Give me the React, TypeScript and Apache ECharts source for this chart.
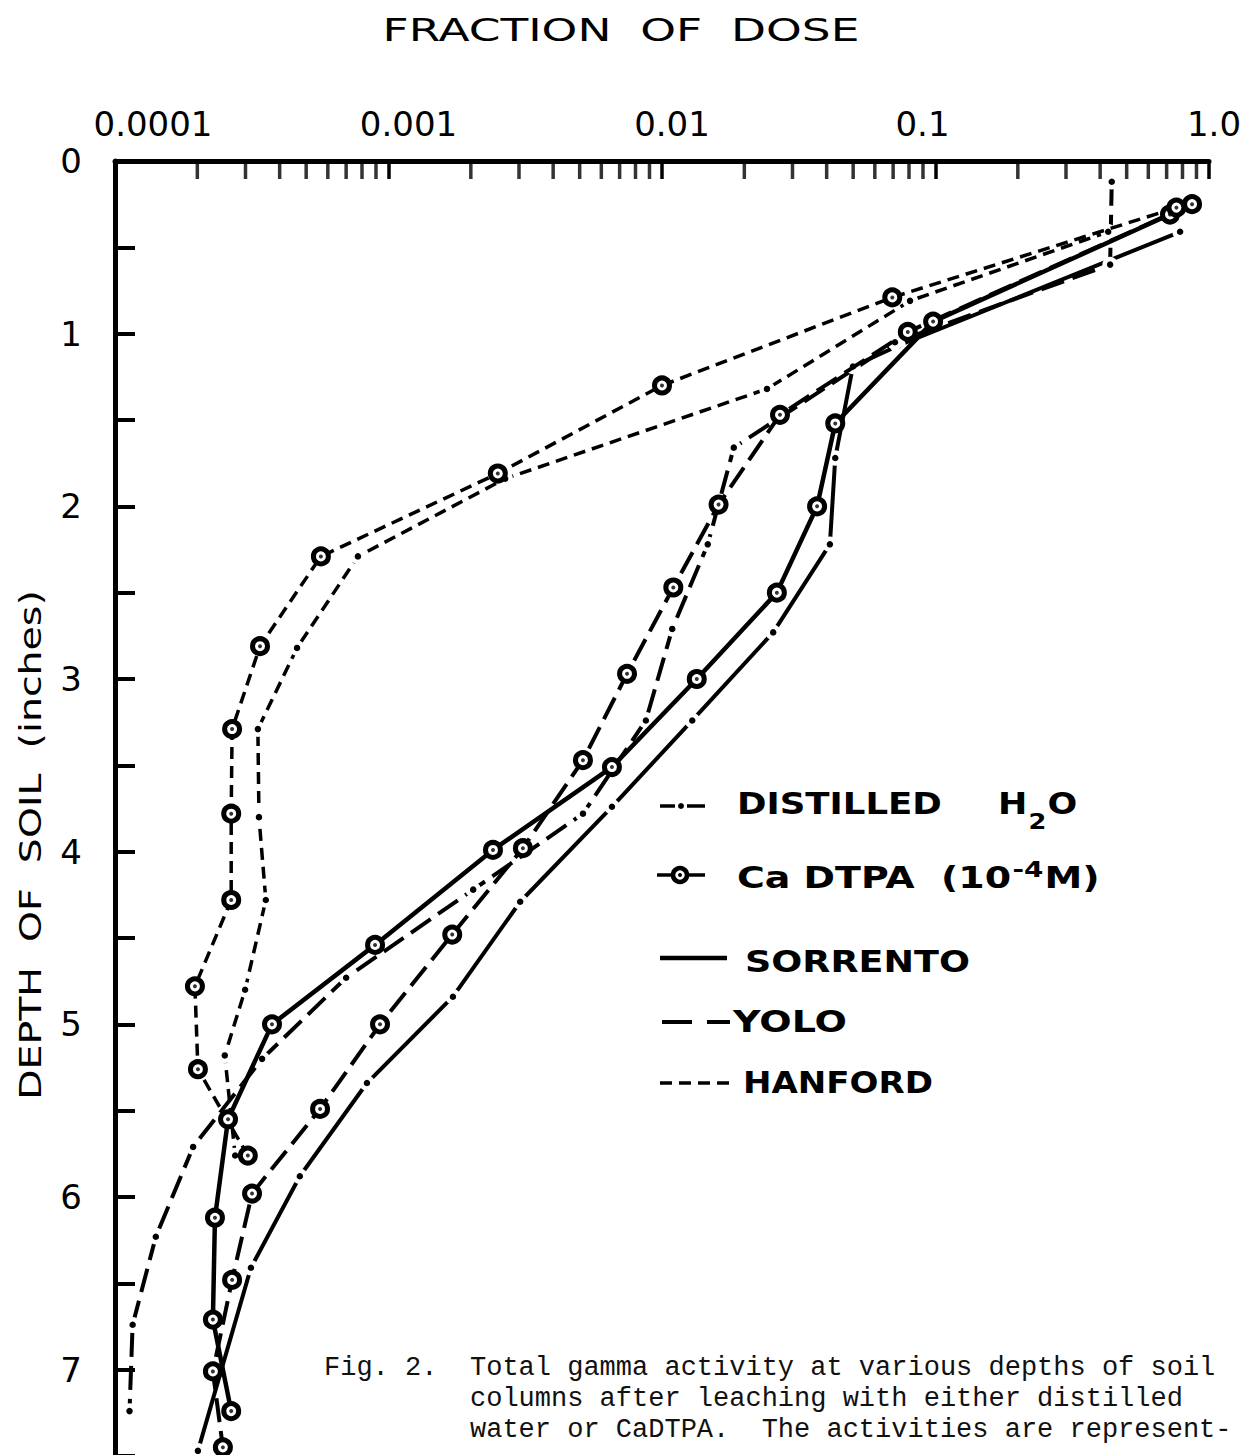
import React, { useEffect, useRef } from 'react';
import * as echarts from 'echarts';

// ---------- data ----------
const xTickLabels = ['0.0001', '0.001', '0.01', '0.1', '1.0'];
const minorTickValues = [
  0.0002, 0.0003, 0.0004, 0.0005, 0.0006, 0.0007, 0.0008, 0.0009,
  0.002, 0.003, 0.004, 0.005, 0.006, 0.007, 0.008, 0.009,
  0.02, 0.03, 0.04, 0.05, 0.06, 0.07, 0.08, 0.09,
  0.2, 0.3, 0.4, 0.5, 0.6, 0.7, 0.8, 0.9,
];

// CaDTPA (10^-4 M) leaching
const sorrentoCaDepth = [0.31, 0.93, 1.52, 2.0, 2.5, 3.0, 3.51, 3.99, 4.54, 5.0, 5.55, 6.12, 6.71, 7.24];
const sorrentoCaFraction = [0.72, 0.098, 0.043, 0.0369, 0.0263, 0.0134, 0.00656, 0.00241, 0.000893, 0.000375, 0.000259, 0.000232, 0.000228, 0.000266];

const yoloCaDepth = [0.25, 0.99, 1.47, 1.99, 2.47, 2.97, 3.47, 3.98, 4.48, 5.0, 5.49, 5.98, 6.48, 7.01, 7.45];
const yoloCaFraction = [0.867, 0.0792, 0.027, 0.0161, 0.011, 0.00745, 0.00514, 0.0031, 0.00171, 0.000931, 0.000562, 0.000317, 0.000268, 0.000228, 0.000248];

const hanfordCaDepth = [0.27, 0.79, 1.3, 1.81, 2.29, 2.81, 3.29, 3.78, 4.28, 4.78, 5.26, 5.76];
const hanfordCaFraction = [0.76, 0.0695, 0.01, 0.00251, 0.000566, 0.000339, 0.000268, 0.000266, 0.000266, 0.000196, 0.000201, 0.000306];

// Distilled H2O leaching
const sorrentoH2oDepth = [0.41, 1.07, 1.19, 1.72, 2.22, 2.73, 3.24, 3.74, 4.29, 4.84, 5.34, 5.88, 6.41, 7.47];
const sorrentoH2oFraction = [0.784, 0.073, 0.0499, 0.043, 0.0411, 0.0255, 0.0129, 0.00656, 0.00303, 0.00172, 0.000834, 0.000474, 0.000314, 0.000201];

const yoloH2oDepth = [0.12, 0.6, 1.05, 1.66, 2.22, 2.71, 3.24, 3.78, 4.22, 4.73, 5.2, 5.71, 6.23, 6.74, 7.24];
const yoloH2oFraction = [0.441, 0.435, 0.0711, 0.0183, 0.0147, 0.0109, 0.00873, 0.00514, 0.00204, 0.0007, 0.000345, 0.000193, 0.000141, 0.000116, 0.000113];

const hanfordH2oDepth = [0.41, 0.81, 1.32, 1.84, 2.29, 2.82, 3.29, 3.8, 4.28, 4.8, 5.18, 5.76];
const hanfordH2oFraction = [0.428, 0.0807, 0.0242, 0.00267, 0.000773, 0.000463, 0.000333, 0.000336, 0.000356, 0.000299, 0.000252, 0.000275];

const titleText = 'FRACTION  OF  DOSE';
const yAxisTitle = 'DEPTH  OF  SOIL  (inches)';
const captionLabel = 'Fig. 2.';
const captionLines = [
  'Total gamma activity at various depths of soil',
  'columns after leaching with either distilled',
  'water or CaDTPA.  The activities are represent-',
];

// ---------- layout / style ----------
const xLabelShift = [38, 20, 10, -13, 5];
const SORRENTO_DASH: any = 'solid';
const YOLO_DASH = [24, 9];
const HANFORD_DASH = [12, 7];
const LEG_FAMILY = 'DejaVu Sans';

let measureCtx: CanvasRenderingContext2D | null = null;
function textWidth(text: string, font: string): number {
  if (!measureCtx) measureCtx = document.createElement('canvas').getContext('2d');
  if (!measureCtx) return text.length * 18;
  measureCtx.font = font;
  return measureCtx.measureText(text).width || 1;
}

function fitText(text: string, size: number, weight: string, family: string, x: number, y: number, targetW: number, align = 'left', extra: any = {}) {
  const font = `${weight} ${size}px "${family}"`;
  const w = textWidth(text, font);
  return {
    type: 'text',
    x,
    y,
    scaleX: targetW / w,
    silent: true,
    style: {
      text,
      font,
      fontSize: size,
      fontWeight: weight,
      fontFamily: family,
      fill: '#000',
      textAlign: align,
      textVerticalAlign: 'middle',
      align,
      verticalAlign: 'middle',
    },
    ...extra,
  };
}

// legend text with a subscript / superscript part, fitted to a width
type Seg = { t: string; kind?: 'sub' | 'sup' };
function fitRich(segs: Seg[], x: number, y: number, targetW: number) {
  const size = 30;
  const small = 22;
  const mainFont = `bold ${size}px "${LEG_FAMILY}"`;
  const smallFont = `bold ${small}px "${LEG_FAMILY}"`;
  let w = 0;
  let text = '';
  segs.forEach((s) => {
    if (s.kind) {
      w += textWidth(s.t, smallFont);
      text += `{${s.kind}|${s.t}}`;
    } else {
      w += textWidth(s.t, mainFont);
      text += s.t;
    }
  });
  return {
    type: 'text',
    x,
    y,
    scaleX: targetW / w,
    silent: true,
    style: {
      text,
      font: mainFont,
      fontSize: size,
      fontWeight: 'bold',
      fontFamily: LEG_FAMILY,
      fill: '#000',
      textAlign: 'left',
      textVerticalAlign: 'middle',
      align: 'left',
      verticalAlign: 'middle',
      rich: {
        sub: { fontSize: small, fontWeight: 'bold', fontFamily: LEG_FAMILY, fill: '#000', padding: [36, 1, 0, 1] },
        sup: { fontSize: small, fontWeight: 'bold', fontFamily: LEG_FAMILY, fill: '#000', padding: [0, 1, 14, 1] },
      },
    },
  };
}

const pairs = (xs: number[], ds: number[]) => xs.map((x, i) => [x, ds[i]]);

function caLine(name: string, xs: number[], ds: number[], dash: any, width: number) {
  return {
    name,
    type: 'line',
    data: pairs(xs, ds),
    clip: false,
    silent: true,
    z: 4,
    lineStyle: { color: '#000', width, type: dash },
    symbol: 'circle',
    symbolSize: 15,
    showSymbol: true,
    showAllSymbol: true,
    itemStyle: { color: '#fff', borderColor: '#000', borderWidth: 5 },
    emphasis: { disabled: true },
  };
}

function h2oLine(name: string, xs: number[], ds: number[], dash: any, width: number) {
  return {
    name,
    type: 'line',
    data: pairs(xs, ds),
    clip: false,
    silent: true,
    z: 3,
    lineStyle: { color: '#000', width, type: dash },
    symbol: 'circle',
    symbolSize: 11,
    showSymbol: true,
    showAllSymbol: true,
    itemStyle: { color: '#000', borderColor: '#fff', borderWidth: 4.5 },
    emphasis: { disabled: true },
  };
}

function centerDots(xs: number[], ds: number[]) {
  return {
    type: 'scatter',
    data: pairs(xs, ds),
    clip: false,
    silent: true,
    z: 5,
    symbol: 'circle',
    symbolSize: 4,
    itemStyle: { color: '#000' },
    emphasis: { disabled: true },
  };
}

function captionText(text: string, x: number, y: number) {
  return {
    type: 'text',
    x,
    y,
    silent: true,
    style: {
      text,
      font: 'normal 27px "Liberation Mono"',
      fontSize: 27,
      fontFamily: 'Liberation Mono',
      fill: '#111',
      textAlign: 'left',
      textVerticalAlign: 'middle',
      align: 'left',
      verticalAlign: 'middle',
    },
  };
}

function buildOption(): any {
  const rich: any = {};
  xTickLabels.forEach((_, i) => {
    const s = xLabelShift[i];
    rich['l' + i] = {
      fontSize: 34,
      fontFamily: 'DejaVu Sans',
      color: '#000',
      padding: s >= 0 ? [0, 0, 0, 2 * s] : [0, -2 * s, 0, 0],
    };
  });

  const graphic: any[] = [
    // title
    fitText(titleText, 32, 'normal', 'DejaVu Sans', 621, 30, 477, 'center'),
    // y-axis title (rotated)
    fitText(yAxisTitle, 30, 'normal', 'DejaVu Sans', 30, 845, 510, 'center', { rotation: Math.PI / 2 }),

    // legend row 1: distilled
    { type: 'line', silent: true, shape: { x1: 660, y1: 806, x2: 675, y2: 806 }, style: { stroke: '#000', lineWidth: 3.5 } },
    { type: 'circle', silent: true, shape: { cx: 681, cy: 806, r: 3 }, style: { fill: '#000' } },
    { type: 'line', silent: true, shape: { x1: 687, y1: 806, x2: 705, y2: 806 }, style: { stroke: '#000', lineWidth: 3.5 } },
    fitText('DISTILLED', 30, 'bold', LEG_FAMILY, 737, 804, 205),
    fitRich([{ t: 'H' }, { t: '2', kind: 'sub' }, { t: 'O' }], 998, 804, 77),

    // legend row 2: CaDTPA
    { type: 'line', silent: true, shape: { x1: 657, y1: 875, x2: 705, y2: 875 }, style: { stroke: '#000', lineWidth: 3.5 } },
    { type: 'circle', silent: true, shape: { cx: 680, cy: 875, r: 7 }, style: { fill: '#fff', stroke: '#000', lineWidth: 4.5 } },
    { type: 'circle', silent: true, shape: { cx: 680, cy: 875, r: 2 }, style: { fill: '#000' } },
    fitRich([{ t: 'Ca DTPA  (10' }, { t: '-4', kind: 'sup' }, { t: 'M)' }], 737, 877, 360),

    // legend row 3: Sorrento
    { type: 'line', silent: true, shape: { x1: 660, y1: 958, x2: 727, y2: 958 }, style: { stroke: '#000', lineWidth: 4.5 } },
    fitText('SORRENTO', 30, 'bold', LEG_FAMILY, 745, 962, 225),

    // legend row 4: Yolo
    { type: 'line', silent: true, shape: { x1: 662, y1: 1022, x2: 692, y2: 1022 }, style: { stroke: '#000', lineWidth: 4 } },
    { type: 'line', silent: true, shape: { x1: 707, y1: 1022, x2: 730, y2: 1022 }, style: { stroke: '#000', lineWidth: 4 } },
    fitText('YOLO', 30, 'bold', LEG_FAMILY, 733, 1022, 114),

    // legend row 5: Hanford
    { type: 'line', silent: true, shape: { x1: 660, y1: 1083, x2: 672, y2: 1083 }, style: { stroke: '#000', lineWidth: 3.5 } },
    { type: 'line', silent: true, shape: { x1: 679, y1: 1083, x2: 691, y2: 1083 }, style: { stroke: '#000', lineWidth: 3.5 } },
    { type: 'line', silent: true, shape: { x1: 698, y1: 1083, x2: 710, y2: 1083 }, style: { stroke: '#000', lineWidth: 3.5 } },
    { type: 'line', silent: true, shape: { x1: 717, y1: 1083, x2: 729, y2: 1083 }, style: { stroke: '#000', lineWidth: 3.5 } },
    fitText('HANFORD', 30, 'bold', LEG_FAMILY, 743, 1083, 190),

    // caption
    captionText(captionLabel, 324, 1368),
    ...captionLines.map((t, i) => captionText(t, 470, 1368 + i * 31)),
  ];

  return {
    animation: false,
    backgroundColor: '#ffffff',
    tooltip: { show: false },
    grid: { left: 115, top: 161, width: 1094, height: 1295, containLabel: false, outerBoundsMode: 'none' },
    xAxis: {
      type: 'log',
      logBase: 10,
      min: 0.0001,
      max: 1,
      position: 'top',
      splitNumber: 4,
      axisLine: { show: true, onZero: false, lineStyle: { color: '#000', width: 5 } },
      axisTick: { show: true, inside: true, length: 18, lineStyle: { color: '#000', width: 3.5 } },
      axisLabel: {
        show: true,
        margin: 20,
        fontSize: 34,
        fontFamily: 'DejaVu Sans',
        color: '#000',
        rich,
        formatter: (v: number) => {
          const i = Math.round(Math.log10(v)) + 4;
          if (i < 0 || i >= xTickLabels.length) return '';
          return `{l${i}|${xTickLabels[i]}}`;
        },
      },
      splitLine: { show: false },
      minorTick: { show: false },
    },
    yAxis: {
      type: 'value',
      inverse: true,
      min: 0,
      max: 7.5,
      interval: 0.5,
      axisLine: { show: true, onZero: false, lineStyle: { color: '#000', width: 5 } },
      axisTick: { show: true, inside: true, length: 20, lineStyle: { color: '#000', width: 4 } },
      axisLabel: {
        show: true,
        margin: 44,
        align: 'center',
        fontSize: 34,
        fontFamily: 'DejaVu Sans',
        color: '#000',
        formatter: (v: number) => (Math.abs(v - Math.round(v)) < 1e-6 && v < 7.5 ? String(Math.round(v)) : ''),
      },
      splitLine: { show: false },
    },
    series: [
      h2oLine('Sorrento – distilled H2O', sorrentoH2oFraction, sorrentoH2oDepth, SORRENTO_DASH, 4),
      h2oLine('Yolo – distilled H2O', yoloH2oFraction, yoloH2oDepth, YOLO_DASH, 4),
      h2oLine('Hanford – distilled H2O', hanfordH2oFraction, hanfordH2oDepth, HANFORD_DASH, 3.5),
      caLine('Sorrento – CaDTPA', sorrentoCaFraction, sorrentoCaDepth, SORRENTO_DASH, 4.5),
      caLine('Yolo – CaDTPA', yoloCaFraction, yoloCaDepth, YOLO_DASH, 4),
      caLine('Hanford – CaDTPA', hanfordCaFraction, hanfordCaDepth, HANFORD_DASH, 3.5),
      centerDots(sorrentoCaFraction, sorrentoCaDepth),
      centerDots(yoloCaFraction, yoloCaDepth),
      centerDots(hanfordCaFraction, hanfordCaDepth),
      {
        type: 'scatter',
        data: minorTickValues.map((v) => [v, 0]),
        clip: false,
        silent: true,
        z: 6,
        symbol: 'rect',
        symbolSize: [3.5, 18],
        symbolOffset: [0, 9],
        itemStyle: { color: '#000' },
        emphasis: { disabled: true },
      },
    ],
    graphic,
  };
}

export default function App() {
  const ref = useRef<HTMLDivElement>(null);
  useEffect(() => {
    if (!ref.current) return;
    const chart = echarts.init(ref.current, null, { renderer: 'svg' });
    chart.setOption(buildOption());
    return () => {
      chart.dispose();
    };
  }, []);
  return (
    <div
      ref={ref}
      style={{ position: 'absolute', left: 0, top: 0, width: 1247, height: 1455, background: '#fff' }}
    />
  );
}
